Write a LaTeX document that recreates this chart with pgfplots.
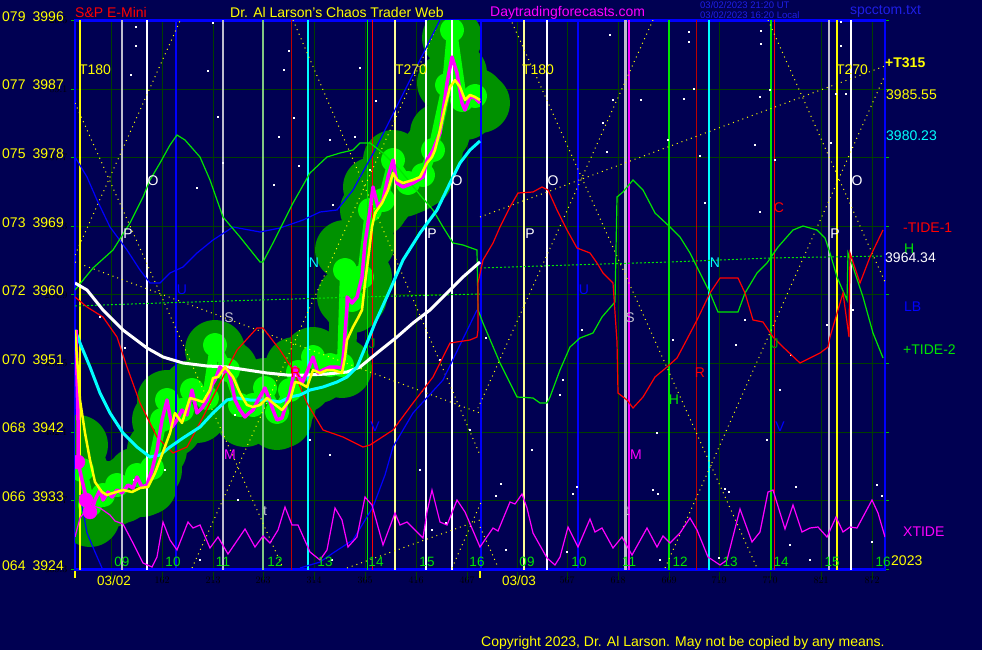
\documentclass[border=0pt]{standalone}
\usepackage{pgfplots}
\pgfplotsset{compat=1.18}
\usepackage{fontspec}
\setmainfont{Liberation Sans}
\newcommand\fs[1]{\fontsize{#1}{#1}\selectfont}
\definecolor{bg}{RGB}{0,0,82}
\definecolor{gridc}{RGB}{0,62,0}
\definecolor{glowd}{RGB}{0,145,0}
\definecolor{glowb}{RGB}{0,255,0}
\definecolor{mag}{RGB}{255,0,255}
\definecolor{cyn}{RGB}{0,255,255}
\definecolor{ylw}{RGB}{255,255,0}
\definecolor{ylwl}{RGB}{255,255,150}
\definecolor{blu}{RGB}{0,0,255}
\definecolor{dblu}{RGB}{30,30,230}
\definecolor{grn}{RGB}{0,230,0}
\definecolor{rd}{RGB}{255,0,0}
\definecolor{dred}{RGB}{190,0,0}
\definecolor{gry}{RGB}{190,190,205}
\definecolor{sage}{RGB}{130,200,130}
% vertical event lines
\newcommand\vl[3]{\addplot[draw=#1,line width=#2,forget plot] coordinates {(#3,20.5) (#3,569.5)};}
\newcommand\dl[4]{\addplot[draw=ylw,line width=1pt,dash pattern=on 1pt off 4pt,forget plot] coordinates {(#1,#2) (#3,#4)};}

\begin{document}
\begin{tikzpicture}
\useasboundingbox (0,0) rectangle (982pt,650pt);
\fill[bg] (0,0) rectangle (982pt,650pt);
\begin{axis}[
    at={(75pt,80.5pt)}, anchor=south west,
    scale only axis, width=810pt, height=549pt,
    xmin=75, xmax=885, ymin=20.5, ymax=569.5, y dir=reverse,
    clip=true, clip marker paths=true,
    axis line style={draw=blu, line width=2.5pt},
    xtick={111,162,213,263,314,365,416,467,517,567,618,669,719,770,821,872},
    ytick={20.5,89.1,157.7,226.3,294.9,363.5,432.1,500.7,569.3},
    xticklabel={}, yticklabel={},
    xmajorgrids, ymajorgrids,
    major grid style={draw=gridc, line width=1pt},
    xtick style={draw=none},
    ytick style={draw=green!75!black, line width=1pt},
    tick align=outside, major tick length=4pt,
]
% glow around the price
\addplot[glowd, line width=28pt, line join=round, line cap=round, mark=*, mark size=16pt, mark options={draw=none, fill=glowd}] coordinates {
(78,445)(78,470)(82,480)(88,505)(90,517)(95,500)(100,490)(103,500)(108,492)(112,497)(117,490)(122,493)(128,485)(133,488)(137,477)(142,487)(147,485)(152,470)(157,450)(162,420)(167,400)(172,427)(177,420)(182,410)(187,415)(192,390)(197,413)(202,408)(207,400)(212,385)(215,350)(220,367)(224,372)(228,370)(232,385)(235,400)(240,410)(245,417)(249,413)(253,410)(258,400)(265,388)(269,398)(273,410)(277,420)(282,418)(286,405)(290,393)(295,367)(298,375)(302,383)(307,372)(313,357)(318,373)(323,370)(330,367)(336,367)(342,368)(345,250)(347,297)(352,303)(357,297)(362,277)(365,243)(370,210)(373,187)(378,207)(383,200)(388,177)(393,160)(397,183)(403,187)(408,185)(413,183)(418,180)(423,177)(427,160)(433,150)(440,133)(447,83)(452,38)(457,73)(462,103)(465,110)(470,97)(475,98)(480,103)};
\addplot[glowb, line width=10pt, line join=round, mark=*, mark size=7pt, mark options={draw=none, fill=glowb}] coordinates {
(82,470)(90,505)(103,495)(117,485)(137,475)(152,468)(162,420)(167,400)(182,410)(192,390)(207,398)(215,345)(228,370)(240,405)(253,405)(265,388)(277,412)(290,390)(298,372)(313,357)(330,365)(342,365)(345,270)(352,300)(362,277)(370,210)(383,200)(393,160)(408,183)(423,175)(433,150)(447,85)(452,30)(462,100)(475,96)};
% event lines
\vl{ylw}{2pt}{80}
\vl{gry}{1.5pt}{122}
\vl{white}{1.5pt}{147}
\vl{blu}{1.5pt}{176}
\vl{gry}{1.5pt}{223}
\vl{sage}{2.5pt}{263}
\vl{dred}{1pt}{291}
\vl{cyn}{1.2pt}{308}
\vl{grn}{1pt}{367}
\vl{rd}{1pt}{372}
\vl{ylwl}{1.5pt}{395}
\vl{white}{1.5pt}{426}
\vl{white}{1.5pt}{452}
\vl{blu}{2pt}{481}
\vl{ylwl}{2pt}{524}
\vl{white}{1.5pt}{547}
\vl{blu}{1.5pt}{578}
\vl{gry}{3pt}{625}
\vl{mag}{1.2pt}{629}
\vl{grn}{1.2pt}{669}
\vl{dred}{1pt}{696}
\vl{cyn}{1.2pt}{709}
\vl{grn}{1.2pt}{771}
\vl{rd}{1pt}{774}
\vl{gry}{1.5pt}{829}
\vl{ylw}{1.5pt}{837}
\vl{white}{1.5pt}{851}
% time / price lines
\dl{75}{103}{283}{568}
\dl{75}{255}{180}{21}
\dl{192}{568}{440}{20}
\dl{293}{20}{480}{455}
\dl{480}{527}{498}{567}
\dl{452}{568}{482}{500}
\dl{75}{262}{480}{413}
\dl{347}{568}{480}{520}
\dl{480}{217}{885}{66}
\dl{510}{18}{757}{568}
\dl{653}{20}{478}{408}
\dl{665}{568}{885}{75}
\dl{768}{20}{885}{282}
% stars
\addplot[only marks, mark=square*, mark size=0.6pt, white] coordinates {
(136,27)(136,46)(131,75)(213,23)(208,71)(218,117)(223,163)(197,188)(289,51)(284,70)(294,118)(279,137)(299,166)(274,185)(360,68)(376,101)(355,137)(370,170)(330,140)(333,205)(610,35)(613,100)(603,123)(607,152)(641,100)(668,140)(689,32)(689,42)(694,89)(684,99)(761,31)(761,44)(770,90)(760,97)(755,145)(700,156)(841,22)(841,46)(836,94)(846,94)(831,143)(775,160)(705,203)(760,212)(673,340)(745,320)(853,310)(827,325)(791,355)(780,390)(560,395)(582,330)(563,380)(532,450)(486,338)(736,345)(657,433)(767,440)(501,484)(496,496)(506,550)(573,494)(577,487)(567,552)(653,490)(658,494)(660,560)(719,558)(725,489)(729,492)(796,487)(790,545)(810,560)(877,485)(882,496)(872,542)(100,317)(125,348)(134,480)(165,470)(235,415)(310,440)(330,455)(238,500)(420,470)(432,530)(446,523)(440,360)(470,430)(200,560)(332,560)};
% green dotted level
\addplot[grn, line width=1pt, dash pattern=on 2pt off 2pt] coordinates {(75,306)(160,303)(260,300)(360,297)(480,294)};
\addplot[grn, line width=1pt, dash pattern=on 2pt off 2pt] coordinates {(480,268)(570,265)(670,262)(770,258)(883,256)};
% blue curves
\addplot[blu, line width=1.2pt] coordinates {(75,157)(87,177)(97,200)(110,227)(127,250)(140,270)(150,283)(160,283)(170,273)(183,267)(197,253)(213,240)(233,227)(260,232)(280,228)(303,220)(320,212)(337,210)(353,190)(375,150)(400,100)(420,60)(440,20)};
\addplot[blu, line width=1.2pt] coordinates {(80,495)(87,533)(95,552)(102,568)};
\addplot[blu, line width=1.2pt] coordinates {(300,568)(320,562)(333,553)(353,540)(373,507)(385,475)(393,447)(413,413)(443,380)(460,345)(477,310)};
% green tide
\addplot[grn, line width=1.2pt] coordinates {(75,290)(93,268)(113,250)(130,223)(143,197)(150,180)(160,163)(170,145)(177,135)(185,140)(200,157)(210,180)(217,200)(223,217)(240,237)(260,262)(263,262)(273,243)(293,203)(310,173)(327,157)(340,153)(353,150)(360,143)(370,143)(383,153)(400,170)(420,195)(433,210)(443,227)(453,243)(463,245)(477,250)(478,310)(483,323)(500,363)(517,397)(533,398)(540,403)(547,403)(550,397)(560,370)(570,347)(580,338)(593,333)(602,317)(615,302)(617,197)(623,192)(633,180)(643,190)(655,213)(670,227)(680,237)(690,253)(700,273)(710,293)(718,312)(738,312)(745,293)(757,273)(767,263)(778,247)(793,230)(803,226)(817,230)(825,238)(830,253)(837,277)(847,300)(848,253)(853,267)(863,297)(873,333)(883,358)};
% red tide
\addplot[rd, line width=1.2pt] coordinates {(75,297)(87,307)(103,317)(117,337)(127,367)(140,403)(157,437)(173,453)(187,447)(203,417)(220,383)(237,350)(257,328)(263,328)(280,350)(293,370)(307,403)(323,430)(343,437)(363,447)(370,445)(393,430)(413,403)(433,377)(450,343)(470,340)(477,337)(478,330)(478,283)(483,260)(493,243)(500,227)(510,207)(518,193)(533,192)(542,187)(548,190)(557,210)(567,230)(577,248)(590,253)(597,263)(603,273)(613,283)(617,342)(618,393)(627,400)(633,408)(643,397)(655,377)(667,367)(677,358)(685,343)(697,320)(710,293)(720,278)(738,278)(745,293)(753,320)(763,322)(773,337)(783,347)(800,363)(820,353)(828,347)(830,337)(843,293)(849,337)(850,253)(860,283)(870,257)(883,230)};
% xtide
\addplot[mag, line width=1.2pt] coordinates {(75,537)(80,518)(90,505)(100,508)(110,515)(115,521)(123,524)(133,543)(143,563)(152,567)(157,557)(163,522)(170,540)(177,550)(188,522)(193,528)(200,525)(210,548)(218,537)(228,554)(245,529)(255,547)(263,536)(270,543)(278,530)(285,507)(292,525)(298,525)(310,552)(320,560)(327,550)(335,508)(342,520)(348,547)(357,537)(365,497)(372,505)(383,545)(395,513)(400,525)(407,522)(417,532)(423,538)(427,512)(432,490)(440,522)(447,525)(457,500)(465,512)(480,547)(493,528)(498,531)(510,502)(515,504)(522,494)(527,508)(533,533)(547,558)(555,565)(560,557)(568,527)(578,547)(590,519)(595,532)(602,528)(613,548)(622,537)(632,555)(647,528)(657,547)(663,536)(670,543)(680,533)(690,518)(697,530)(708,557)(720,565)(727,560)(740,509)(752,542)(760,532)(768,492)(773,490)(785,529)(793,505)(802,532)(810,528)(818,527)(827,537)(836,517)(843,532)(850,527)(857,528)(872,500)(878,513)(885,537)};
% white average
\addplot[white, line width=3pt] coordinates {(75,283)(87,290)(103,310)(123,330)(147,348)(163,357)(183,363)(207,366)(227,367)(247,370)(267,373)(287,375)(307,375)(327,374)(347,372)(360,367)(377,353)(397,337)(413,323)(430,310)(447,293)(463,277)(480,262)};
% cyan average
\addplot[cyn, line width=3pt] coordinates {(75,330)(80,343)(90,367)(100,393)(110,413)(123,433)(137,447)(150,457)(160,455)(170,447)(183,438)(200,427)(213,413)(227,400)(237,398)(250,400)(267,400)(280,402)(290,397)(300,395)(310,390)(323,387)(337,382)(347,377)(357,367)(367,343)(375,323)(390,290)(403,260)(420,233)(437,210)(450,183)(460,163)(470,150)(480,141)};
% price
\addplot[only marks, mark=*, mark size=7pt, mag, mark options={draw=none, fill=mag}] coordinates {(78,462)(90,512)(86,500)};
\addplot[mag, line width=3.5pt, line join=round] coordinates {
(76,330)(78,420)(78,462)(82,480)(88,505)(90,517)(95,500)(100,490)(103,500)(108,492)(112,497)(117,490)(122,493)(128,485)(133,488)(137,477)(142,487)(147,485)(152,470)(157,450)(162,420)(167,400)(172,427)(177,420)(182,410)(187,415)(192,390)(197,413)(202,408)(207,400)(212,385)(215,380)(220,367)(224,372)(228,370)(232,385)(235,400)(240,410)(245,417)(249,413)(253,410)(258,400)(265,388)(269,398)(273,410)(277,420)(282,418)(286,405)(290,393)(295,367)(298,375)(302,383)(307,372)(313,357)(318,373)(323,370)(330,367)(336,367)(342,368)(344,350)(345,333)(347,307)(347,297)(352,303)(357,297)(362,277)(365,243)(370,210)(373,187)(378,207)(383,200)(388,177)(393,160)(397,183)(403,187)(408,185)(413,183)(418,180)(423,177)(427,160)(433,150)(440,133)(447,83)(452,57)(457,73)(462,103)(465,110)(470,97)(475,98)(480,103)};
\addplot[ylw, line width=2.5pt, line join=round] coordinates {
(75,330)(80,400)(85,433)(90,460)(95,482)(102,492)(107,495)(113,493)(123,490)(132,492)(140,488)(148,487)(155,473)(163,452)(170,433)(175,413)(182,423)(190,398)(197,400)(203,402)(210,390)(213,378)(218,377)(225,367)(233,377)(240,393)(247,405)(253,407)(260,405)(267,398)(273,403)(282,410)(290,400)(295,382)(300,383)(307,387)(313,370)(320,373)(327,370)(333,370)(342,373)(345,357)(347,340)(353,327)(358,318)(362,310)(365,283)(368,260)(372,227)(375,213)(382,203)(388,190)(393,173)(397,180)(403,183)(413,180)(420,177)(427,163)(432,157)(435,150)(440,130)(445,107)(450,87)(455,80)(460,87)(465,100)(470,95)(475,97)(480,100)};
\end{axis}
\begin{scope}[x=1pt,y=-1pt,yshift=650pt,every node/.style={inner sep=0pt,font=\fs{14}}]
% grid stubs below axis
\foreach \gx in {111,162,213,263,314,365,416,467,517,567,618,669,719,770,821,872}
  \draw[gridc,line width=1pt] (\gx,572) -- (\gx,580);
\draw[ylw,line width=1.5pt] (75,571) -- (75,578);
\draw[ylw,line width=1.5pt] (480,571) -- (480,578);
% price scale
\foreach \yy/\a/\b in {20.5/079/3996,89.1/077/3987,157.7/075/3978,226.3/073/3969,294.9/072/3960,363.5/070/3951,432.1/068/3942,500.7/066/3933,569.3/064/3924}{
  \node[anchor=west,text=ylw] at (2,\yy-4) {\a};
  \node[anchor=east,text=ylw] at (64,\yy-4) {\b};
}
% headings
\node[anchor=west,text=rd] at (75,13) {S\&P E-Mini};
\node[anchor=west,text=ylw] at (230,13) {Dr. Al Larson's Chaos Trader Web};
\node[anchor=west,text=mag] at (490,13) {Daytradingforecasts.com};
\node[anchor=west,text=dblu,font=\fs{9.5}] at (700,5) {03/02/2023 21:20 UT};
\node[anchor=west,text=dblu,font=\fs{9.5}] at (700,15) {03/02/2023 16:20 Local};
\node[anchor=west,text=dblu] at (850,11) {spcctom.txt};
\node[anchor=west,text=ylw] at (481,643) {Copyright 2023, Dr. Al Larson. May not be copied by any means.};
% hours
\foreach \hx/\hl in {122/09,173/10,223/11,275/12,325/13,376/14,427/15,477/16,527/09,579/10,629/11,680/12,730/13,781/14,832/15,883/16}
  \node[text=grn,font=\fs{13.5}] at (\hx,562) {\hl};
\node[text=ylw,font=\fs{13.5}] at (114,581) {03/02};
\node[text=ylw,font=\fs{13.5}] at (519,581) {03/03};
\node[anchor=west,text=ylw] at (891,561) {2023};
% right side labels
\node[anchor=west,text=ylw,font=\fs{14}\bfseries] at (885,63) {+T315};
\node[anchor=west,text=ylw] at (886,95) {3985.55};
\node[anchor=west,text=cyn] at (886,136) {3980.23};
\node[anchor=west,text=rd] at (903,228) {-TIDE-1};
\node[anchor=west,text=grn] at (904,249) {H};
\node[anchor=west,text=white] at (885,258) {3964.34};
\node[anchor=west,text=blu] at (904,307) {LB};
\node[anchor=west,text=grn] at (903,350) {+TIDE-2};
\node[anchor=west,text=mag] at (903,532) {XTIDE};
% cycle labels
\node[text=ylw] at (95,70) {T180};
\node[text=ylw] at (411,70) {T270};
\node[text=ylw] at (538,70) {T180};
\node[text=ylw] at (852,70) {T270};
\foreach \lx in {153,457,553,857} \node[text=white] at (\lx,181) {O};
\foreach \lx in {128,432,530,835} \node[text=white] at (\lx,234) {P};
\foreach \lx in {182,584} \node[text=blu] at (\lx,290) {U};
\foreach \lx in {229,630} \node[text=gry] at (\lx,318) {S};
\foreach \lx in {314,715} \node[text=cyn] at (\lx,263) {N};
\foreach \lx in {230,636} \node[text=mag] at (\lx,455) {M};
\foreach \lx in {265,627} \node[text=gry] at (\lx,511) {t};
\foreach \lx in {296,700} \node[text=rd] at (\lx,373) {R};
\foreach \lx in {375,780} \node[text=blu] at (\lx,427) {V};
\foreach \lx in {372,775} \node[text=green!60!black] at (\lx,344) {J};
\node[text=grn] at (674,400) {H};
\node[text=rd] at (779,208) {C};
\end{scope}
\end{tikzpicture}
\end{document}
